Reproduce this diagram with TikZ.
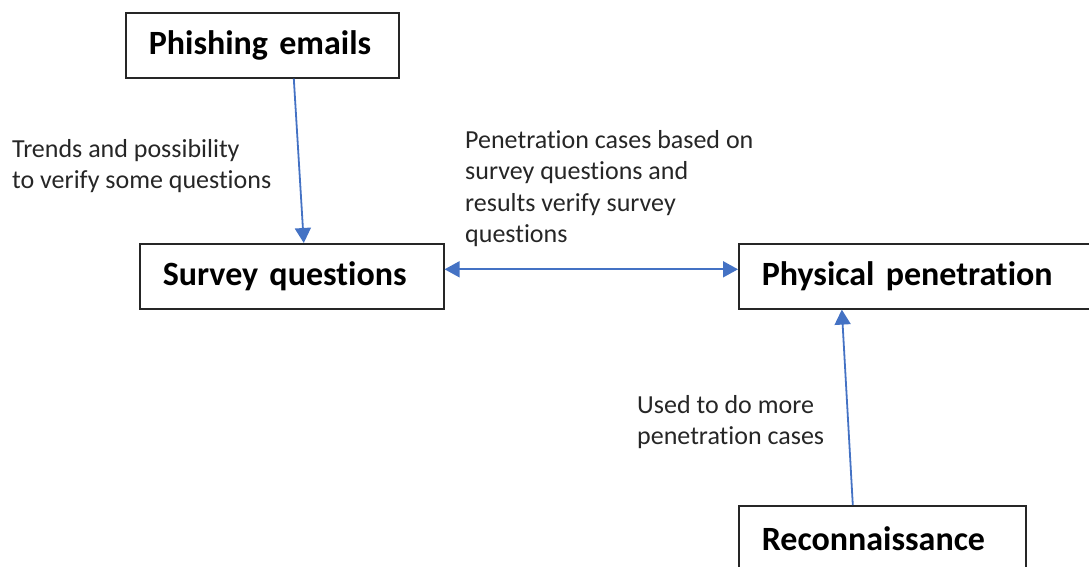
\documentclass[tikz,border=0pt]{standalone}
\usepackage{fontspec}
\setmainfont[Ligatures=NoCommon]{Carlito}
\usetikzlibrary{arrows.meta,positioning}
\definecolor{arrowblue}{HTML}{4472C4}
\tikzset{
  box/.style={draw=black!85, line width=1.6pt, minimum height=65pt, inner xsep=23pt, anchor=north west, align=left, font=\fontsize{34}{40}\selectfont\bfseries},
  lbl/.style={anchor=north west, inner sep=0pt, align=left, font=\fontsize{26}{31.5}\selectfont, text=black!85},
  link/.style={draw=arrowblue, line width=1.8pt, -{Triangle[length=15pt,width=16pt]}}
}

\begin{document}
\begin{tikzpicture}[x=1pt, y=-1pt]
\useasboundingbox (0,0) rectangle (1089,567);
%boxes
\node[box, minimum width=273pt, text width=227pt] (phishing) at (125,12) {Phishing emails};
\node[box, minimum width=304pt, text width=258pt] (survey) at (139,243) {Survey questions};
\node[box, minimum width=360pt, text width=314pt] (physical) at (738,243) {Physical penetration};
\node[box, minimum width=287pt, text width=241pt] (recon) at (738,505) {Reconnaissance};
%arrows
\draw[link] ([xshift=31.5pt]phishing.south) -- ([xshift=12pt]survey.north);
\draw[link, {Triangle[length=15pt,width=16pt]}-{Triangle[length=15pt,width=16pt]}] ([yshift=7pt]survey.east) -- ([yshift=7pt]physical.west);
\draw[link] ([xshift=-29.5pt]recon.north) -- ([xshift=-77pt]physical.south);
%labels
\node[lbl] (trends) at (12,139) {Trends and possibility\\to verify some questions};
\node[lbl] (cases) at (465,130) {Penetration cases based on\\survey questions and\\results verify survey\\questions};
\node[lbl] (used) at (637,395) {Used to do more\\penetration cases};
\end{tikzpicture}
\end{document}
